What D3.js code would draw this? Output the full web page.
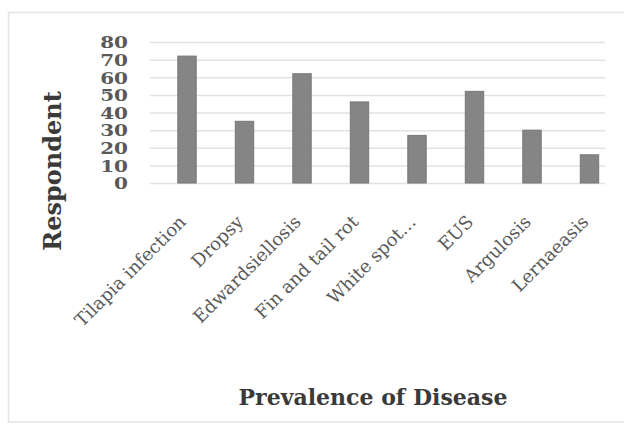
<!DOCTYPE html>
<html>
<head>
<meta charset="utf-8">
<script src="https://cdn.jsdelivr.net/npm/d3@7"></script>
<style>
  html, body { margin: 0; padding: 0; background: #ffffff; }
  svg { display: block; }
</style>
</head>
<body>
<script>
// Disease prevalence reported by respondents
const categories = ["Tilapia infection", "Dropsy", "Edwardsiellosis", "Fin and tail rot",
                    "White spot\u2026", "EUS", "Argulosis", "Lernaeasis"];
const respondents = [72, 35, 62, 46, 27, 52, 30, 16];
const yTicks = [0, 10, 20, 30, 40, 50, 60, 70, 80];

const W = 624, H = 424;
const serif = "'DejaVu Serif', 'Liberation Serif', serif";

const svg = d3.select("body").append("svg")
  .attr("width", W).attr("height", H);

// chart area frame
svg.append("rect")
  .attr("x", 8.5).attr("y", 12.5)
  .attr("width", 640).attr("height", 409.5)
  .attr("fill", "#ffffff")
  .attr("stroke", "#e4e4e4").attr("stroke-width", 1.5);

const x = d3.scaleBand()
  .domain(categories)
  .range([158.25, 618.25])
  .paddingInner(0.68)
  .paddingOuter(0.34);

const y = d3.scaleLinear().domain([0, 80]).range([183, 42]);

// value axis with gridlines
const gridLeft = 150, gridRight = 605;
const yAxis = svg.append("g")
  .attr("transform", `translate(${gridLeft},0)`)
  .call(d3.axisLeft(y).tickValues(yTicks).tickSize(-(gridRight - gridLeft)).tickPadding(22));
yAxis.select(".domain").remove();
yAxis.selectAll(".tick line").attr("stroke", "#e2e2e2").attr("stroke-width", 1.5);
// wide, compact numerals stacked tightly beside the grid
yAxis.selectAll(".tick text")
  .attr("x", 0)
  .attr("dy", "0.36em")
  .attr("transform", "translate(-22,0) scale(1.25,1)")
  .attr("fill", "#595959")
  .style("font-family", serif)
  .style("font-size", "16px")
  .style("font-weight", "bold");

// bars
svg.append("g").selectAll("rect")
  .data(categories)
  .join("rect")
  .attr("x", d => x(d))
  .attr("width", x.bandwidth())
  .attr("y", (d, i) => y(respondents[i]))
  .attr("height", (d, i) => y(0) - y(respondents[i]))
  .attr("fill", "#858585")
  .attr("stroke", "#777777")
  .attr("stroke-width", 1);

// category axis with slanted labels
const xAxis = svg.append("g")
  .attr("transform", `translate(0,${y(0)})`)
  .call(d3.axisBottom(x).tickSize(0));
xAxis.select(".domain").remove();
xAxis.selectAll(".tick text")
  .attr("y", 0).attr("dy", 0)
  .attr("transform", "translate(0,40) rotate(-45)")
  .attr("text-anchor", "end")
  .attr("fill", "#595959")
  .style("font-family", serif)
  .style("font-size", "18px");

// axis titles
svg.append("text")
  .attr("transform", "translate(61,171) rotate(-90)")
  .attr("text-anchor", "middle")
  .attr("fill", "#3a3a3a")
  .style("font-family", serif)
  .style("font-size", "24px")
  .style("font-weight", "bold")
  .text("Respondent");

svg.append("text")
  .attr("x", 373).attr("y", 405)
  .attr("text-anchor", "middle")
  .attr("fill", "#3a3a3a")
  .style("font-family", serif)
  .style("font-size", "22px")
  .style("font-weight", "bold")
  .text("Prevalence of Disease");
</script>
</body>
</html>
